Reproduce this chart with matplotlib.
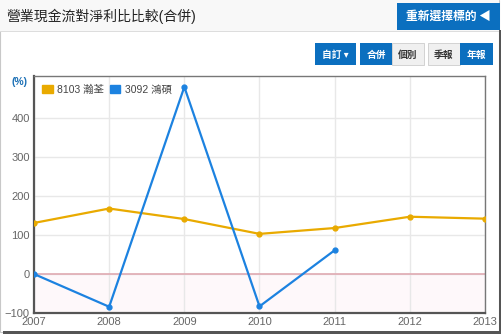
import matplotlib
matplotlib.use("Agg")
import matplotlib.pyplot as plt
from matplotlib.patches import Rectangle, Patch

plt.rcParams['font.family'] = ['Liberation Sans', 'Noto Sans CJK TC', 'DejaVu Sans']

# data
years = [2007, 2008, 2009, 2010, 2011, 2012, 2013]
s8103 = [131, 168, 141, 103, 118, 147, 142]
years_3092 = [2007, 2008, 2009, 2010, 2011]
s3092 = [0, -84, 480, -83, 61]
yticks = [-100, 0, 100, 200, 300, 400]

title = "營業現金流對淨利比比較(合併)"
name1 = "8103 瀚荃"
name2 = "3092 鴻碩"

yellow = "#e9aa00"
blue = "#1c82e0"
btn_blue = "#0b6fbf"

W, H = 504, 335
fig = plt.figure(figsize=(W / 100, H / 100), dpi=100)
fig.patch.set_facecolor("white")

def px(x, y, w, h):
    # pixel box (top-left origin) -> figure fraction rect
    return (x / W, 1 - (y + h) / H, w / W, h / H)

def rect(x, y, w, h, **kw):
    l, b, ww, hh = px(x, y, w, h)
    fig.add_artist(Rectangle((l, b), ww, hh, transform=fig.transFigure, zorder=-1, **kw))

# outer frame + shadow
rect(0, 0, 499, 332, facecolor="white", edgecolor="#c8c8c8", lw=0.8)
rect(499, 30, 2, 304, facecolor="#555555", edgecolor="none")
rect(3, 331, 498, 3, facecolor="#555555", edgecolor="none")

# title bar
rect(0, 0, 499, 32, facecolor="#f8f8f8", edgecolor="none")
rect(0, 31, 499, 1, facecolor="#dddddd", edgecolor="none")
fig.text(6 / W, 1 - 16 / H, title, fontsize=10, color="#222222",
         va="center", ha="left", fontweight="medium")

# reselect button
rect(397, 3, 103, 27, facecolor=btn_blue, edgecolor="none")
fig.text(448 / W, 1 - 16.5 / H, "重新選擇標的 ◀", fontsize=8.5, color="white",
         ha="center", va="center", fontweight="bold",
         family=['Noto Sans CJK TC', 'DejaVu Sans'])

# option buttons
buttons = [("自訂 ▾", 315, 41, btn_blue, "white"),
           ("合併", 360, 32, btn_blue, "white"),
           ("個別", 392, 32, "#f0f0f0", "#333333"),
           ("季報", 428, 32, "#f0f0f0", "#333333"),
           ("年報", 460, 33, btn_blue, "white")]
for label, bx, bw, bc, tc in buttons:
    rect(bx, 43, bw, 22, facecolor=bc, edgecolor="#cccccc" if bc != btn_blue else "none", lw=0.6)
    fig.text((bx + bw / 2) / W, 1 - 54.5 / H, label, fontsize=7, color=tc,
             ha="center", va="center", fontweight="bold",
             family=['Noto Sans CJK TC', 'DejaVu Sans'])

# chart
ax = fig.add_axes(px(34, 76, 451, 237))
ax.set_zorder(5)
ax.set_xlim(2007, 2013)
ax.set_ylim(-100, 508)
ax.axhspan(-100, 0, color="#fef8fa", zorder=0)
ax.axhline(0, color="#e0aab2", lw=1.2, zorder=1)
ax.plot(years, s8103, color=yellow, lw=1.6, marker="o", ms=3.5, zorder=3)
ax.plot(years_3092, s3092, color=blue, lw=1.6, marker="o", ms=3.5, zorder=4)

ax.set_xticks(years)
ax.set_yticks(yticks)
ax.grid(True, color="#e8e8e8", lw=1)
ax.set_axisbelow(True)
ax.tick_params(length=0, labelsize=8, labelcolor="#666666", pad=3)
for side in ["top", "right"]:
    ax.spines[side].set_color("#777777")
    ax.spines[side].set_linewidth(1)
for side in ["left", "bottom"]:
    ax.spines[side].set_color("#555555")
    ax.spines[side].set_linewidth(1.6)

fig.text(27 / W, 1 - 82 / H, "(%)", fontsize=7.5, color="#1a6fb5",
         ha="right", va="center", fontweight="bold")

handles = [Patch(color=yellow, label=name1), Patch(color=blue, label=name2)]
ax.legend(handles=handles, loc="upper left", ncol=2, frameon=False,
          fontsize=7.5, handlelength=1.0, handleheight=0.9, handletextpad=0.4,
          columnspacing=0.6, borderaxespad=0.4, labelcolor="#444444",
          bbox_to_anchor=(0.0, 1.0))

fig.savefig("out.png", dpi=100)
